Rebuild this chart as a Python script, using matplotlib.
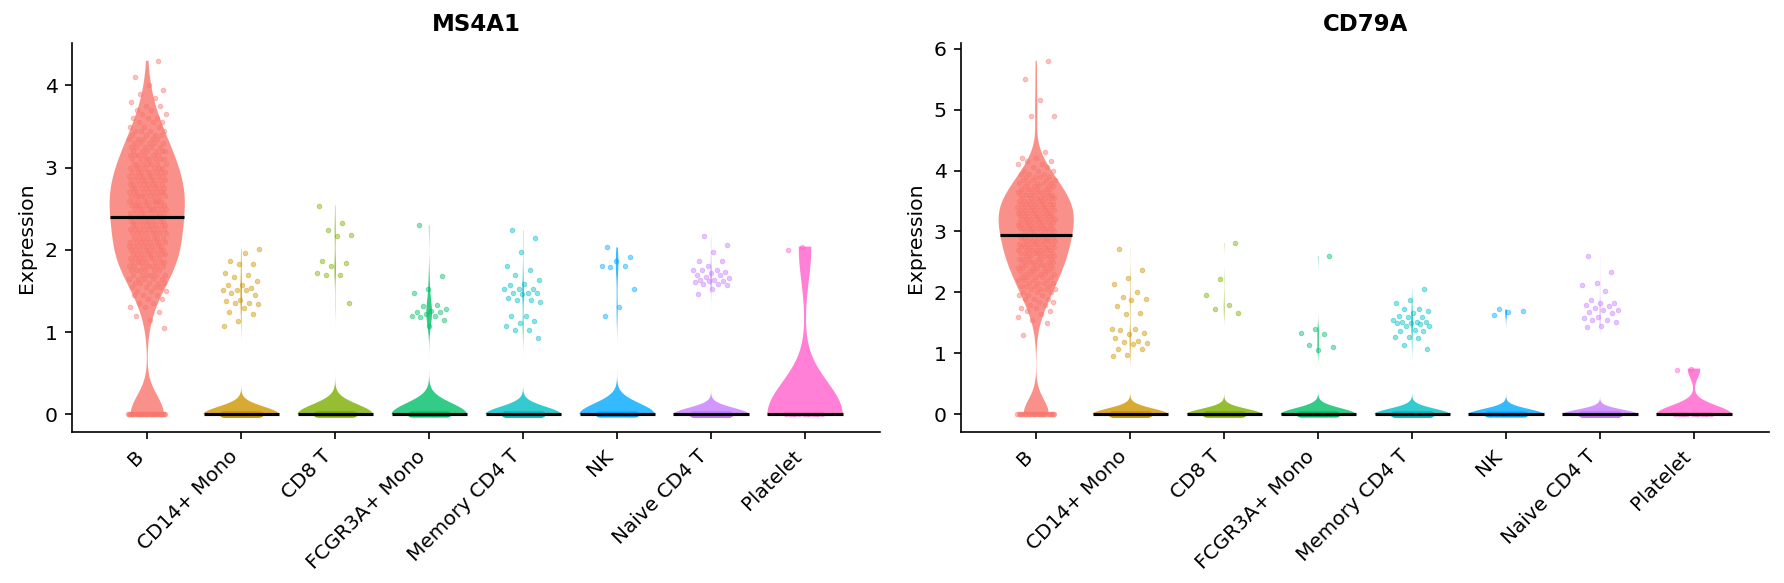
import numpy as np
import matplotlib
matplotlib.use('Agg')
import matplotlib.pyplot as plt
from matplotlib import cbook

groups = ['B', 'CD14+ Mono', 'CD8 T', 'FCGR3A+ Mono', 'Memory CD4 T', 'NK', 'Naive CD4 T', 'Platelet']
colors = ['#F8766D', '#CD9600', '#7CAE00', '#00BE67', '#00BFC4', '#00A9FF', '#C77CFF', '#FF61CC']

# ---- MS4A1 ----
# B cells: expression levels (0.05 bins) and number of cells per level
ms4a1_b_levels = np.round(np.arange(1.05, 4.301, 0.05), 2)
ms4a1_b_counts = [1, 0, 1, 1, 1, 2, 2, 2, 3, 3,
                  4, 5, 5, 6, 6, 7, 7, 7, 8, 8,
                  8, 8, 7, 8, 8, 8, 8, 8, 8, 9,
                  9, 9, 9, 9, 8, 8, 8, 8, 8, 7,
                  7, 7, 6, 6, 5, 5, 5, 4, 4, 3,
                  3, 3, 2, 2, 2, 1, 1, 1, 1, 1,
                  0, 1, 0, 0, 0, 1]
ms4a1_cd14 = [2.01, 1.96, 1.86, 1.83, 1.83, 1.72, 1.69, 1.67, 1.62, 1.57, 1.57, 1.54, 1.51, 1.51,
              1.51, 1.47, 1.45, 1.39, 1.38, 1.35, 1.35, 1.34, 1.29, 1.25, 1.22, 1.13, 1.07]
ms4a1_cd8 = [2.54, 2.33, 2.24, 2.18, 2.17, 1.86, 1.84, 1.81, 1.72, 1.70, 1.70, 1.35]
ms4a1_fcgr3a = [2.30, 1.68, 1.52, 1.47, 1.33, 1.32, 1.28, 1.26, 1.25, 1.24, 1.22, 1.20, 1.20,
                1.18, 1.15, 1.07]
ms4a1_mem = [2.24, 2.14, 1.97, 1.80, 1.75, 1.69, 1.64, 1.59, 1.57, 1.53, 1.52, 1.52, 1.48, 1.47,
             1.47, 1.46, 1.42, 1.39, 1.39, 1.37, 1.20, 1.19, 1.13, 1.11, 1.07, 1.03, 1.03, 0.93]
ms4a1_nk = [2.03, 1.91, 1.86, 1.81, 1.80, 1.79, 1.53, 1.30, 1.20]
ms4a1_naive = [2.17, 2.06, 1.97, 1.87, 1.86, 1.80, 1.76, 1.76, 1.75, 1.73, 1.72, 1.70, 1.69,
               1.67, 1.66, 1.64, 1.63, 1.62, 1.62, 1.61, 1.59, 1.58, 1.57, 1.53, 1.46]
ms4a1_platelet = [2.04, 2.00]
ms4a1_zeros = [42, 453, 259, 146, 455, 146, 672, 12]

# ---- CD79A ----
cd79a_b_levels = np.round(np.arange(1.30, 5.801, 0.05), 2)
cd79a_b_counts = [1, 0, 0, 0, 1, 1, 1, 1, 2, 2,
                  2, 2, 3, 3, 3, 4, 4, 4, 4, 5,
                  5, 5, 6, 6, 6, 6, 6, 7, 7, 7,
                  7, 7, 7, 7, 7, 8, 8, 8, 8, 8,
                  8, 8, 8, 8, 7, 7, 7, 6, 6, 5,
                  5, 4, 4, 3, 3, 2, 2, 2, 2, 0,
                  1, 0, 0, 0, 0, 0, 0, 0, 0, 0,
                  0, 0, 2, 0, 0, 0, 0, 1, 0, 0,
                  0, 0, 0, 0, 1, 0, 0, 0, 0, 0,
                  1]
cd79a_cd14 = [2.72, 2.37, 2.24, 2.14, 2.01, 1.93, 1.90, 1.87, 1.77, 1.67, 1.64, 1.40, 1.40,
              1.38, 1.34, 1.31, 1.26, 1.21, 1.19, 1.17, 1.16, 1.08, 1.08, 0.98, 0.96]
cd79a_cd8 = [2.81, 2.22, 1.95, 1.80, 1.72, 1.67]
cd79a_fcgr3a = [2.60, 1.40, 1.34, 1.32, 1.14, 1.11, 1.06]
cd79a_mem = [2.06, 1.88, 1.83, 1.73, 1.72, 1.70, 1.67, 1.62, 1.60, 1.60, 1.54, 1.52, 1.52, 1.52,
             1.50, 1.50, 1.49, 1.45, 1.45, 1.39, 1.37, 1.37, 1.27, 1.27, 1.26, 1.13, 1.08]
cd79a_nk = [1.72, 1.69, 1.68, 1.63]
cd79a_naive = [2.60, 2.34, 2.16, 2.12, 2.02, 1.88, 1.82, 1.82, 1.80, 1.78, 1.75, 1.71, 1.71,
               1.68, 1.66, 1.59, 1.58, 1.55, 1.55, 1.52, 1.45, 1.43]
cd79a_platelet = [0.75, 0.73]
cd79a_zeros = [31, 455, 265, 155, 456, 151, 675, 12]


def build(b_levels, b_counts, others, zeros):
    nonzero = [np.repeat(b_levels, b_counts)] + [np.array(v) for v in others]
    return [np.concatenate([np.zeros(z), v]) for z, v in zip(zeros, nonzero)]


genes = [
    ('MS4A1', build(ms4a1_b_levels, ms4a1_b_counts,
                    [ms4a1_cd14, ms4a1_cd8, ms4a1_fcgr3a, ms4a1_mem, ms4a1_nk, ms4a1_naive, ms4a1_platelet],
                    ms4a1_zeros), [0, 1, 2, 3, 4]),
    ('CD79A', build(cd79a_b_levels, cd79a_b_counts,
                    [cd79a_cd14, cd79a_cd8, cd79a_fcgr3a, cd79a_mem, cd79a_nk, cd79a_naive, cd79a_platelet],
                    cd79a_zeros), [0, 1, 2, 3, 4, 5, 6]),
]


def bw_nrd0(x):
    # Silverman's rule of thumb (R's bw.nrd0)
    sd = np.std(x, ddof=1)
    q75, q25 = np.percentile(x, [75, 25])
    lo = min(sd, (q75 - q25) / 1.34)
    if lo == 0:
        lo = sd
    return 0.9 * lo * len(x) ** -0.2


def kde(x, coords):
    h = bw_nrd0(x)
    z = (coords[:, None] - x[None, :]) / h
    return np.exp(-0.5 * z ** 2).sum(axis=1) / (len(x) * h * np.sqrt(2 * np.pi))


W = 0.8
fig = plt.figure(figsize=(1784 / 150, 583 / 150), dpi=150)
axes = [fig.add_axes([0.0404, 0.259, 0.453, 0.667]),
        fig.add_axes([0.5387, 0.259, 0.453, 0.667])]

for ax, (gene, data, yticks) in zip(axes, genes):
    pos = np.arange(len(groups))
    stats = cbook.violin_stats(data, kde, points=400)
    parts = ax.violin(stats, positions=pos, widths=W, showextrema=False)
    for body, c in zip(parts['bodies'], colors):
        body.set_facecolor(c)
        body.set_edgecolor('none')
        body.set_alpha(0.8)
        body.set_zorder(1)

    for i, (vals, c) in enumerate(zip(data, colors)):
        k = np.arange(len(vals))
        dx = ((k * 0.6180339887) % 1.0 - 0.5) * 0.4
        ax.scatter(i + dx, vals, s=5, color=c, alpha=0.45, linewidths=0.4,
                   edgecolors=c, zorder=2)

    for i, st in enumerate(stats):
        med = np.median(data[i])
        half = W / 2 * np.interp(med, st['coords'], st['vals']) / st['vals'].max()
        ax.plot([i - half, i + half], [med, med], color='black', lw=1.5,
                solid_capstyle='butt', zorder=3)

    ax.set_xlim(-0.8, len(groups) - 0.2)
    ax.set_yticks(yticks)
    ax.set_xticks(pos)
    ax.set_xticklabels(groups, rotation=45, ha='right', fontsize=9.6)
    ax.tick_params(axis='y', labelsize=9.8)
    ax.set_ylabel('Expression', fontsize=9.8)
    ax.set_title(gene, fontsize=11, fontweight='bold')
    ax.spines['top'].set_visible(False)
    ax.spines['right'].set_visible(False)

fig.savefig('out.png', dpi=150)
